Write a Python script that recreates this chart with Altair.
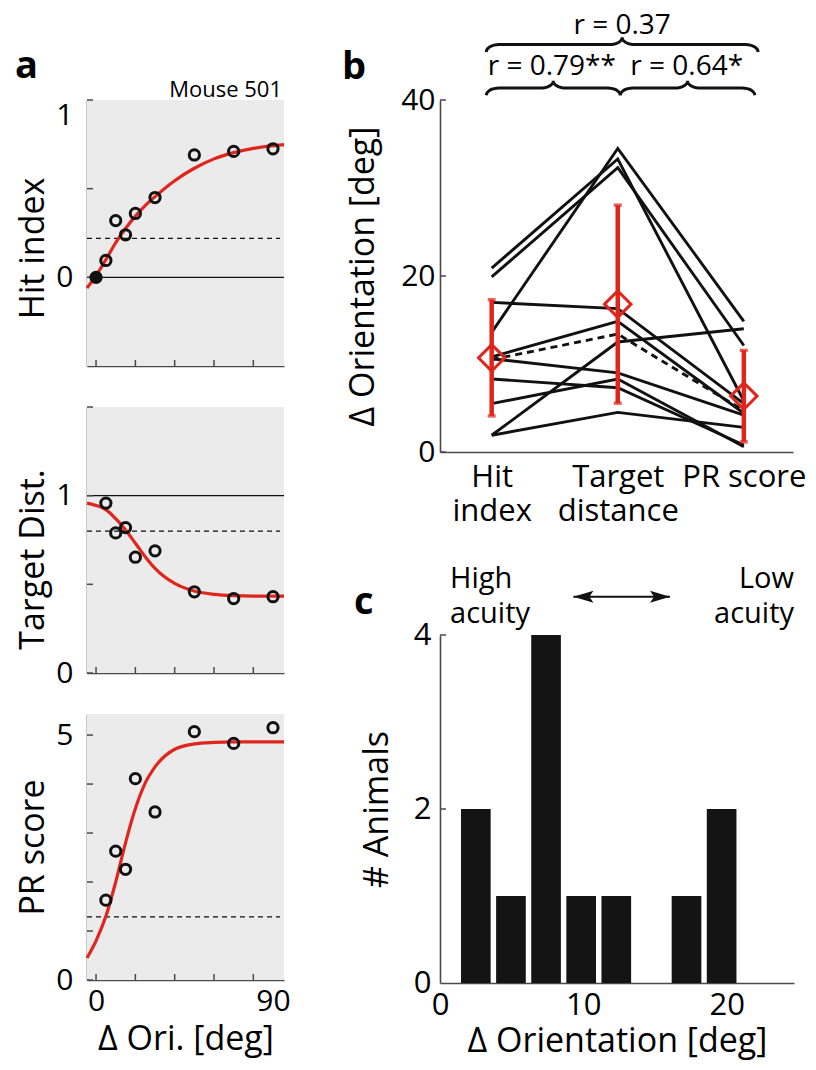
import json
import altair as alt
import numpy as np
import pandas as pd

FONT = "Open Sans"
RED = "#e0261c"
INK = "#111111"
AXC = "#4a4a4a"
BG = "#ebebeb"
TITLE_FS = 34

# ---------------- panel a : example mouse ----------------
ori_hit = [0, 5, 10, 15, 20, 30, 50, 70, 90]
hit_vals = [0.0, 0.095, 0.32, 0.24, 0.36, 0.45, 0.69, 0.71, 0.725]
ori_td = [5, 10, 15, 20, 30, 50, 70, 90]
td_vals = [0.958, 0.79, 0.82, 0.653, 0.689, 0.458, 0.42, 0.43]
ori_pr = [5, 10, 15, 20, 30, 50, 70, 90]
pr_vals = [1.63, 2.63, 2.26, 4.11, 3.43, 5.07, 4.83, 5.15]

fit_ori = [-4.6, 0, 5, 10, 15, 20, 25, 30, 40, 50, 60, 70, 80, 95.6]
hit_fit = [-0.06, 0.01, 0.10, 0.195, 0.275, 0.345, 0.404, 0.455, 0.545, 0.615, 0.668, 0.703, 0.727, 0.748]
td_fit = [0.958, 0.945, 0.921, 0.87, 0.807, 0.732, 0.656, 0.59, 0.505, 0.462, 0.443, 0.436, 0.434, 0.434]
pr_fit = [0.45, 0.8, 1.3, 2.0, 2.8, 3.5, 4.02, 4.35, 4.71, 4.82, 4.85, 4.86, 4.86, 4.86]

hit_solid, hit_dashed = 0.0, 0.22
td_solid, td_dashed = 1.0, 0.80
pr_dashed = 1.29

# ---------------- panel b : thresholds per animal ----------------
b_cats = [1, 2, 3]
b_cat_labels = [["Hit", "index"], ["Target", "distance"], ["PR score"]]
thr_hit = [20.9, 19.9, 13.6, 17.0, 10.8, 10.5, 10.6, 8.3, 5.5, 1.9, 1.9]
thr_tgt = [33.3, 32.3, 34.5, 16.3, 14.85, 13.4, 9.0, 7.3, 8.3, 4.5, 12.5]
thr_pr = [5.8, 12.1, 14.85, 5.5, 4.4, 4.7, 4.2, 0.8, 0.6, 2.8, 14.0]
example_idx = 5
thr_mean = [10.7, 16.8, 6.35]
thr_sd = [6.6, 11.25, 5.2]
corr_labels = ["r = 0.37", "r = 0.79**", "r = 0.64*"]

# ---------------- panel c : histogram ----------------
hist_centers = [2.5, 4.95, 7.4, 9.85, 12.3, 14.75, 17.2, 19.65]
hist_counts = [2, 1, 4, 1, 1, 0, 1, 2]
BAR_W = 2.07

one = pd.DataFrame({"k": [0]})

# ======================= panel a =======================
W_A, H_A = 197, 266
X_DOM_A = [-4.6, 95.6]
X_TICKS_A = [0, 20, 40, 60, 80]


def panel_a(ori, vals, fit, ydom, ytick_vals, ylab_vals, title, title_y,
            solid=None, dashed=None, bottom=False, flush_top=False):
    xs = alt.Scale(domain=X_DOM_A, nice=False, zero=False)
    ys = alt.Scale(domain=ydom, nice=False, zero=False)
    xkw = dict(values=[0, 90], ticks=False, domainColor=AXC, domainWidth=1.6, labelFlush=False)
    if bottom:
        xkw.update(labelFontSize=30, labelPadding=6, title="Δ Ori. [deg]", titleFontSize=TITLE_FS,
                   titleY=69, titleBaseline="alphabetic")
    else:
        xkw.update(labels=False, title="")
    xax = alt.Axis(**xkw)
    ykw = dict(values=ylab_vals, ticks=False, labelFontSize=30, labelPadding=14, title=title,
               titleFontSize=TITLE_FS, titleX=-44, titleY=title_y, titleBaseline="alphabetic",
               domainColor=AXC, domainWidth=1.6)
    if flush_top:
        ykw["labelFlush"] = True
    yax = alt.Axis(**ykw)

    def X(f):
        return alt.X(f"{f}:Q", scale=xs, axis=xax)

    def Y(f):
        return alt.Y(f"{f}:Q", scale=ys, axis=yax)

    layers = [alt.Chart(one).mark_rect(color=BG).encode(
        x=alt.value(0), x2=alt.value(W_A), y=alt.value(0), y2=alt.value(H_A))]
    if solid is not None:
        layers.append(alt.Chart(pd.DataFrame({"r": [solid]})).mark_rule(color=INK, strokeWidth=1.4)
                      .encode(y=Y("r"), x=alt.value(0), x2=alt.value(W_A)))
    if dashed is not None:
        layers.append(alt.Chart(pd.DataFrame({"r": [dashed]})).mark_rule(
            color=INK, strokeWidth=1.3, strokeDash=[5, 4])
            .encode(y=Y("r"), x=alt.value(0), x2=alt.value(W_A - 4)))
    layers.append(alt.Chart(pd.DataFrame({"t": ytick_vals})).mark_rule(color=AXC, strokeWidth=1.5)
                  .encode(y=Y("t"), x=alt.value(0), x2=alt.value(6)))
    layers.append(alt.Chart(pd.DataFrame({"t": X_TICKS_A})).mark_rule(color=AXC, strokeWidth=1.5)
                  .encode(x=X("t"), y=alt.value(H_A), y2=alt.value(H_A - 6)))
    layers.append(alt.Chart(pd.DataFrame({"x": fit_ori, "y": fit})).mark_line(
        color=RED, strokeWidth=3.2, interpolate="monotone").encode(x=X("x"), y=Y("y")))
    layers.append(alt.Chart(pd.DataFrame({"x": ori, "y": vals})).mark_point(
        shape="circle", filled=False, color=INK, size=105, strokeWidth=3, opacity=1)
        .encode(x=X("x"), y=Y("y")))
    return layers, X, Y


a1_layers, X1, Y1 = panel_a(ori_hit, hit_vals, hit_fit, [-0.5, 1], [0, 0.5, 1], [0, 1],
                            "Hit index", 148, solid=hit_solid, dashed=hit_dashed, flush_top=True)
a1_layers.append(alt.Chart(pd.DataFrame({"x": ori_hit[:1], "y": hit_vals[:1]})).mark_point(
    shape="circle", filled=True, color=INK, size=120, opacity=1).encode(x=X1("x"), y=Y1("y")))
a1_layers.append(alt.Chart(one).mark_text(text="Mouse 501", font=FONT, fontSize=22, align="right",
                                          baseline="alphabetic", color="black")
                 .encode(x=alt.value(W_A - 2), y=alt.value(-3)))
a1_layers.append(alt.Chart(one).mark_text(text="a", font=FONT, fontSize=38, fontWeight="bold",
                                          align="left", baseline="alphabetic", color="black")
                 .encode(x=alt.value(-72), y=alt.value(-22)))
# white (invisible) text so that both columns share the same top extent
a1_layers.append(alt.Chart(one).mark_text(text="r = 0.37", font=FONT, fontSize=28, align="center",
                                          baseline="alphabetic", color="white")
                 .encode(x=alt.value(W_A / 2), y=alt.value(-67)))
a1 = alt.layer(*a1_layers).properties(width=W_A, height=H_A)

a2_layers, _, _ = panel_a(ori_td, td_vals, td_fit, [0, 1.5], [0, 0.5, 1, 1.5], [0, 1],
                          "Target Dist.", 152, solid=td_solid, dashed=td_dashed)
a2 = alt.layer(*a2_layers).properties(width=W_A, height=H_A)

a3_layers, _, _ = panel_a(ori_pr, pr_vals, pr_fit, [0, 5.43], [0, 1, 2, 3, 4, 5], [0, 5],
                          "PR score", 133, dashed=pr_dashed, bottom=True)
a3 = alt.layer(*a3_layers).properties(width=W_A, height=H_A)

# ======================= panel b =======================
W_B, H_B = 353, 352
xbs = alt.Scale(domain=[0.59, 3.39], nice=False, zero=False)
ybs = alt.Scale(domain=[0, 40], nice=False, zero=False)


def _lab(lbl):
    return json.dumps(lbl[0]) if len(lbl) == 1 else json.dumps(lbl)


label_expr = (f"datum.value == {b_cats[0]} ? {_lab(b_cat_labels[0])} : "
              f"datum.value == {b_cats[1]} ? {_lab(b_cat_labels[1])} : {_lab(b_cat_labels[2])}")
xbax = alt.Axis(values=b_cats, ticks=False, labelExpr=label_expr, labelFontSize=31, labelPadding=10,
                labelLineHeight=34, labelFlush=False, title="", domainColor=AXC, domainWidth=1.6)
ybax = alt.Axis(values=[0, 20, 40], ticks=False, labelFontSize=30, labelPadding=5,
                title="Δ Orientation [deg]", titleFontSize=TITLE_FS, titleX=-67, titleBaseline="alphabetic",
                domainColor=AXC, domainWidth=1.6)


def XB(f):
    return alt.X(f"{f}:Q", scale=xbs, axis=xbax)


def YB(f):
    return alt.Y(f"{f}:Q", scale=ybs, axis=ybax)


rows = []
for i in range(len(thr_hit)):
    for c, v in zip(b_cats, [thr_hit[i], thr_tgt[i], thr_pr[i]]):
        rows.append({"id": i, "cat": c, "v": v, "ex": i == example_idx})
lines_df = pd.DataFrame(rows)

summ = pd.DataFrame({"cat": b_cats, "m": thr_mean,
                     "lo": [m - s for m, s in zip(thr_mean, thr_sd)],
                     "hi": [m + s for m, s in zip(thr_mean, thr_sd)]})


def brace(xa, xb, y_main, y_tip, y_end, dx, bid):
    t = np.linspace(0, np.pi / 2, 9)
    xm = (xa + xb) / 2
    pts = []
    for tt in t:
        pts.append((xa + dx * (1 - np.cos(tt)), y_end + (y_main - y_end) * np.sin(tt)))
    for tt in t:
        pts.append((xm - dx + dx * np.sin(tt), y_main + (y_tip - y_main) * (1 - np.cos(tt))))
    for tt in t[::-1]:
        pts.append((xm + dx - dx * np.sin(tt), y_main + (y_tip - y_main) * (1 - np.cos(tt))))
    for tt in t[::-1]:
        pts.append((xb - dx * (1 - np.cos(tt)), y_end + (y_main - y_end) * np.sin(tt)))
    return [{"bid": bid, "o": k, "bx": p[0], "by": p[1]} for k, p in enumerate(pts)]


br = brace(0.957, 3.113, 46.3, 47.1, 45.45, 0.1, 0)
br += brace(0.957, 2.02, 41.36, 42.16, 40.53, 0.1, 1)
br += brace(2.02, 3.087, 41.36, 42.16, 40.53, 0.1, 2)
brace_df = pd.DataFrame(br)
rtext_df = pd.DataFrame({"tx": [2.035, 1.477, 2.547], "ty": [47.53, 42.8, 42.8], "t": corr_labels})

b_layers = [
    alt.Chart(pd.DataFrame({"t": [0, 20, 40]})).mark_rule(color=AXC, strokeWidth=1.5)
    .encode(y=YB("t"), x=alt.value(0), x2=alt.value(6)),
    alt.Chart(lines_df[~lines_df["ex"]]).mark_line(color=INK, strokeWidth=2.9)
    .encode(x=XB("cat"), y=YB("v"), detail="id:N", order="cat:Q"),
    alt.Chart(lines_df[lines_df["ex"]]).mark_line(color=INK, strokeWidth=2.9, strokeDash=[7, 5])
    .encode(x=XB("cat"), y=YB("v"), detail="id:N", order="cat:Q"),
    alt.Chart(summ).mark_rule(color=RED, strokeWidth=4.5).encode(x=XB("cat"), y=YB("lo"), y2="hi:Q"),
    alt.Chart(summ).mark_tick(color=RED, orient="horizontal", size=8, thickness=3.5)
    .encode(x=XB("cat"), y=YB("lo")),
    alt.Chart(summ).mark_tick(color=RED, orient="horizontal", size=8, thickness=3.5)
    .encode(x=XB("cat"), y=YB("hi")),
    alt.Chart(summ).mark_point(shape="diamond", filled=False, color=RED, size=700, strokeWidth=3,
                               opacity=1).encode(x=XB("cat"), y=YB("m")),
    alt.Chart(brace_df).mark_line(color=INK, strokeWidth=3)
    .encode(x=XB("bx"), y=YB("by"), detail="bid:N", order="o:Q"),
    alt.Chart(rtext_df).mark_text(font=FONT, fontSize=28, baseline="alphabetic", align="center",
                                  color="black").encode(x=XB("tx"), y=YB("ty"), text="t:N"),
    alt.Chart(one).mark_text(text="b", font=FONT, fontSize=38, fontWeight="bold", align="left",
                             baseline="alphabetic", color="black")
    .encode(x=alt.value(-98), y=alt.value(-21)),
]
b = alt.layer(*b_layers).properties(width=W_B, height=H_B)

# ======================= panel c =======================
W_C, H_C = 354, 348
xcs = alt.Scale(domain=[0, 24.7], nice=False, zero=False)
ycs = alt.Scale(domain=[0, 4], nice=False, zero=False)
xcax = alt.Axis(values=[0, 10, 20], ticks=False, labelFontSize=31, labelPadding=7, labelFlush=False,
                title="Δ Orientation [deg]", titleFontSize=TITLE_FS, titleY=68, titleBaseline="alphabetic",
                domainColor=AXC, domainWidth=1.6)
ycax = alt.Axis(values=[0, 2, 4], ticks=False, labelFontSize=31, labelPadding=9,
                title="# Animals", titleFontSize=TITLE_FS, titleX=-53, titleBaseline="alphabetic",
                domainColor=AXC, domainWidth=1.6)


def XC(f):
    return alt.X(f"{f}:Q", scale=xcs, axis=xcax)


def YC(f):
    return alt.Y(f"{f}:Q", scale=ycs, axis=ycax)


hist_df = pd.DataFrame({"c": hist_centers, "n": hist_counts})
hist_df = hist_df[hist_df["n"] > 0].copy()
hist_df["x0"] = hist_df["c"] - BAR_W / 2
hist_df["x1"] = hist_df["c"] + BAR_W / 2
hist_df["z"] = 0

ann_df = pd.DataFrame({"tx": [0.7, 0.7, 24.7, 24.7], "ty": [4.545, 4.14, 4.545, 4.14],
                       "t": ["High", "acuity", "Low", "acuity"],
                       "al": ["left", "left", "right", "right"]})
arrow_x = [9.31, 16.05]
arrow_y = 4.44
LEFT_HEAD = "M -1 0 L 1 -0.6 L 0.6 0 L 1 0.6 Z"
RIGHT_HEAD = "M 1 0 L -1 -0.6 L -0.6 0 L -1 0.6 Z"

c_layers = [
    alt.Chart(pd.DataFrame({"t": [2, 4]})).mark_rule(color=AXC, strokeWidth=1.5)
    .encode(y=YC("t"), x=alt.value(0), x2=alt.value(6)),
    alt.Chart(hist_df).mark_rect(color="#141414")
    .encode(x=XC("x0"), x2="x1:Q", y=YC("z"), y2="n:Q"),
    alt.Chart(ann_df[ann_df["al"] == "left"]).mark_text(font=FONT, fontSize=29, align="left",
                                                       baseline="alphabetic", color="black")
    .encode(x=XC("tx"), y=YC("ty"), text="t:N"),
    alt.Chart(ann_df[ann_df["al"] == "right"]).mark_text(font=FONT, fontSize=29, align="right",
                                                        baseline="alphabetic", color="black")
    .encode(x=XC("tx"), y=YC("ty"), text="t:N"),
    alt.Chart(pd.DataFrame({"a": [arrow_x[0]], "b": [arrow_x[1]], "y": [arrow_y]}))
    .mark_rule(color=INK, strokeWidth=2).encode(x=XC("a"), x2="b:Q", y=YC("y")),
    alt.Chart(pd.DataFrame({"a": [arrow_x[0]], "y": [arrow_y]}))
    .mark_point(shape=LEFT_HEAD, filled=True, color=INK, size=400, opacity=1, xOffset=10)
    .encode(x=XC("a"), y=YC("y")),
    alt.Chart(pd.DataFrame({"a": [arrow_x[1]], "y": [arrow_y]}))
    .mark_point(shape=RIGHT_HEAD, filled=True, color=INK, size=400, opacity=1, xOffset=-10)
    .encode(x=XC("a"), y=YC("y")),
    alt.Chart(one).mark_text(text="c", font=FONT, fontSize=38, fontWeight="bold", align="left",
                             baseline="alphabetic", color="black")
    .encode(x=alt.value(-86), y=alt.value(-21)),
]
c = alt.layer(*c_layers).properties(width=W_C, height=H_C)

left = alt.vconcat(a1, a2, a3, spacing=41, bounds="flush")
right = alt.vconcat(b, c, spacing=183, bounds="flush")
chart = alt.hconcat(left, right, spacing=51).properties(
    padding={"left": 7, "top": 3, "right": 0, "bottom": 8})
chart = chart.configure_view(strokeWidth=0).configure_axis(
    labelFont=FONT, titleFont=FONT, labelColor="black", titleColor="black",
    titleFontWeight="normal", grid=False, zindex=1)

chart.save("out.html", embed_options={"renderer": "svg", "actions": False})
